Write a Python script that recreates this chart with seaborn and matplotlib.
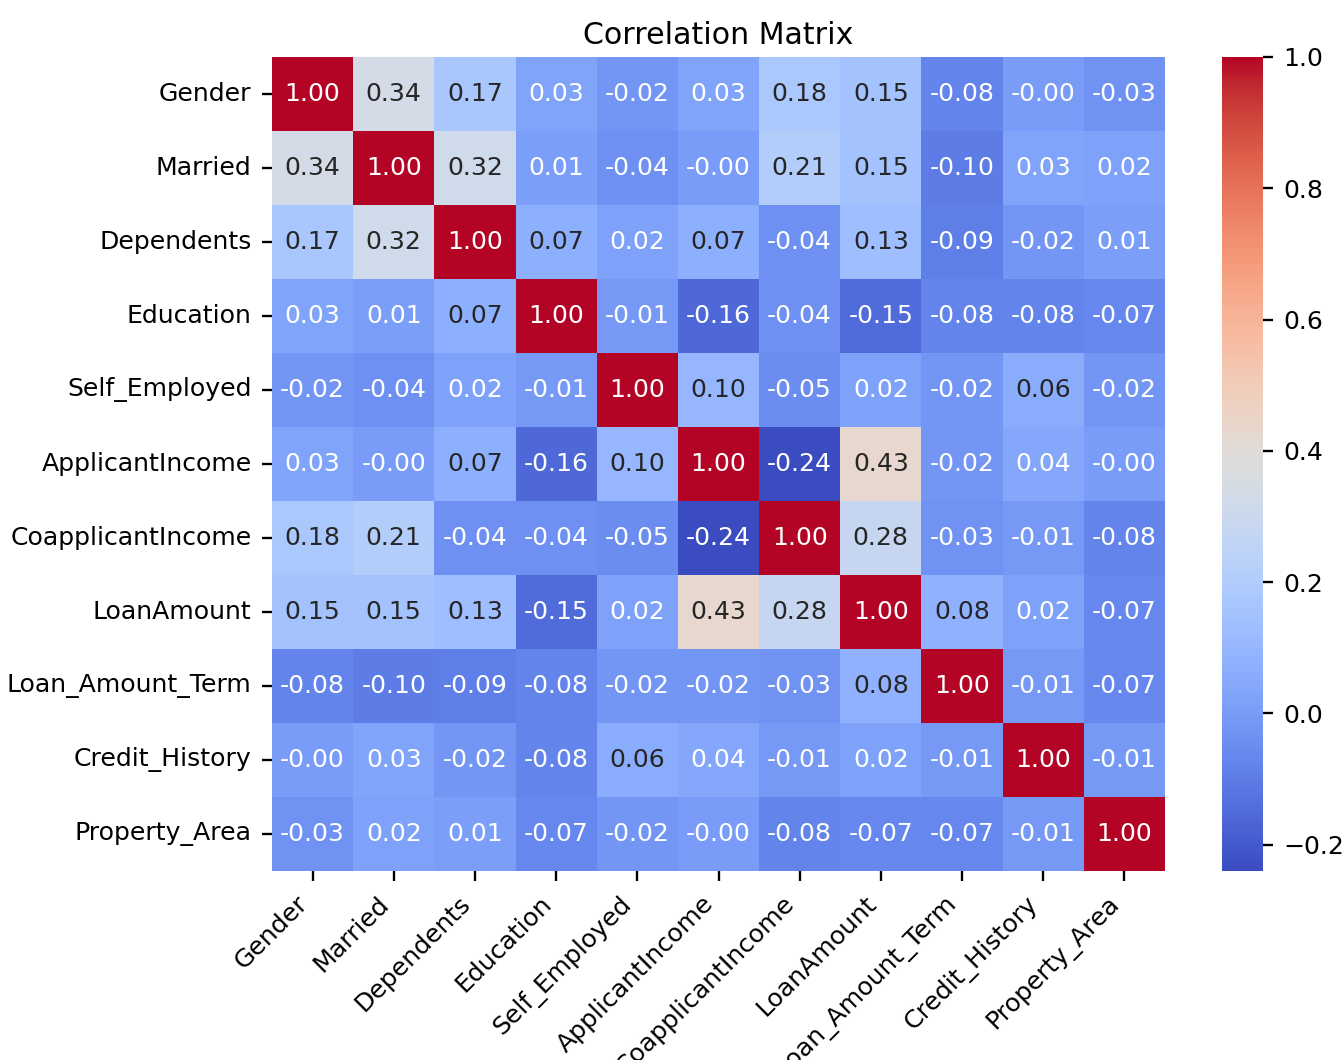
import numpy as np
import pandas as pd
import matplotlib
matplotlib.use("Agg")
import matplotlib.pyplot as plt
import seaborn as sns

features = ["Gender", "Married", "Dependents", "Education", "Self_Employed",
            "ApplicantIncome", "CoapplicantIncome", "LoanAmount",
            "Loan_Amount_Term", "Credit_History", "Property_Area"]

gender            = [1.00, 0.34, 0.17, 0.03, -0.02, 0.03, 0.18, 0.15, -0.08, -0.0, -0.03]
married           = [0.34, 1.00, 0.32, 0.01, -0.04, -0.0, 0.21, 0.15, -0.10, 0.03, 0.02]
dependents        = [0.17, 0.32, 1.00, 0.07, 0.02, 0.07, -0.04, 0.13, -0.09, -0.02, 0.01]
education         = [0.03, 0.01, 0.07, 1.00, -0.01, -0.16, -0.04, -0.15, -0.08, -0.08, -0.07]
self_employed     = [-0.02, -0.04, 0.02, -0.01, 1.00, 0.10, -0.05, 0.02, -0.02, 0.06, -0.02]
applicant_income  = [0.03, -0.0, 0.07, -0.16, 0.10, 1.00, -0.24, 0.43, -0.02, 0.04, -0.0]
coapplicant_inc   = [0.18, 0.21, -0.04, -0.04, -0.05, -0.24, 1.00, 0.28, -0.03, -0.01, -0.08]
loan_amount       = [0.15, 0.15, 0.13, -0.15, 0.02, 0.43, 0.28, 1.00, 0.08, 0.02, -0.07]
loan_amount_term  = [-0.08, -0.10, -0.09, -0.08, -0.02, -0.02, -0.03, 0.08, 1.00, -0.01, -0.07]
credit_history    = [-0.0, 0.03, -0.02, -0.08, 0.06, 0.04, -0.01, 0.02, -0.01, 1.00, -0.01]
property_area     = [-0.03, 0.02, 0.01, -0.07, -0.02, -0.0, -0.08, -0.07, -0.07, -0.01, 1.00]

corr = pd.DataFrame(
    [gender, married, dependents, education, self_employed, applicant_income,
     coapplicant_inc, loan_amount, loan_amount_term, credit_history, property_area],
    index=features, columns=features,
)

plt.rcParams["font.size"] = 8.6

dpi = 210
fig = plt.figure(figsize=(1342 / dpi, 1060 / dpi), dpi=dpi)
ax = fig.add_axes([0.2027, 0.1783, 0.6654, 0.768])
cax = fig.add_axes([0.9106, 0.1783, 0.0306, 0.768])

sns.heatmap(corr, annot=True, fmt=".2f", cmap="coolwarm", ax=ax, cbar_ax=cax)
ax.set_title("Correlation Matrix", fontsize=10.3, pad=4.3)
ax.set_xticklabels(ax.get_xticklabels(), rotation=45, ha="right")
ax.set_yticklabels(ax.get_yticklabels(), rotation=0)

fig.savefig("out.png", dpi=dpi)
